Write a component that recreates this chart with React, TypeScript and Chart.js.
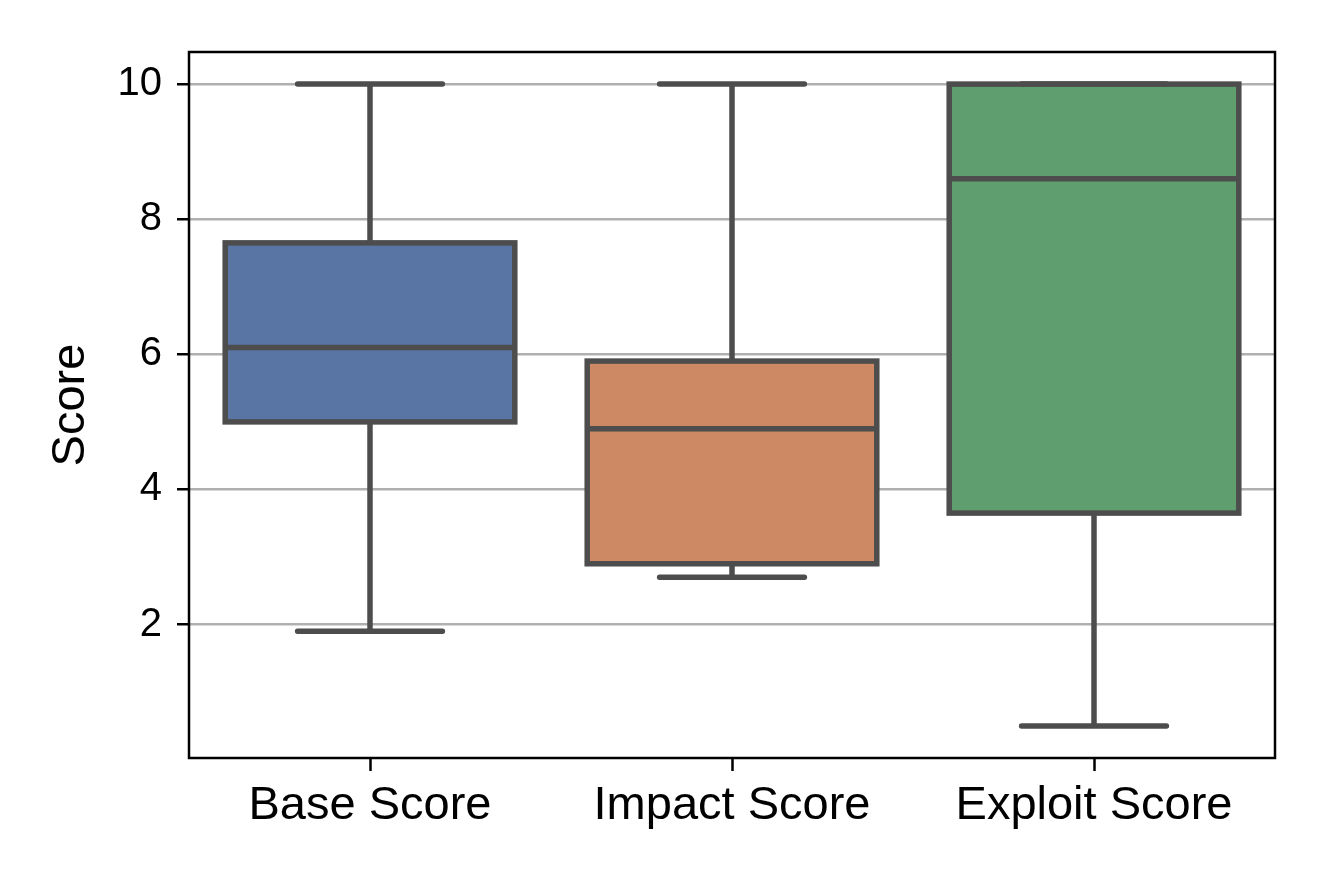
import React, { useEffect, useRef } from 'react';
import { Chart, registerables } from 'chart.js';

Chart.register(...registerables);

const categories = ['Base Score', 'Impact Score', 'Exploit Score'];
const whiskerLow = [1.9, 2.7, 0.5];
const q1 = [5.0, 2.9, 3.65];
const median = [6.1, 4.9, 8.6];
const q3 = [7.65, 5.9, 10.0];
const whiskerHigh = [10.0, 10.0, 10.0];
const boxColors = ['#5875a4', '#cc8963', '#5f9e6e'];
const yTicks = [2, 4, 6, 8, 10];
const yMin = 0.025;
const yMax = 10.475;

const LINE = '#4d4d4d';
const FONT = '"Liberation Sans", Arial, Helvetica, sans-serif';

const boxPlugin = {
  id: 'boxplotParts',
  afterDatasetsDraw(chart: any) {
    const ctx = chart.ctx;
    const meta = chart.getDatasetMeta(0);
    const y = chart.scales.y;
    ctx.save();
    ctx.strokeStyle = LINE;
    ctx.lineWidth = 5.5;
    ctx.lineJoin = 'miter';
    meta.data.forEach((bar: any, i: number) => {
      const { x, width } = bar.getProps(['x', 'width'], true);
      const top = y.getPixelForValue(q3[i]);
      const bot = y.getPixelForValue(q1[i]);
      ctx.strokeRect(x - width / 2, top, width, bot - top);
    });
    ctx.restore();
  },
  afterDraw(chart: any) {
    const ctx = chart.ctx;
    const meta = chart.getDatasetMeta(0);
    const y = chart.scales.y;
    ctx.save();
    ctx.strokeStyle = LINE;
    meta.data.forEach((bar: any, i: number) => {
      const { x, width } = bar.getProps(['x', 'width'], true);
      const pLow = y.getPixelForValue(whiskerLow[i]);
      const pQ1 = y.getPixelForValue(q1[i]);
      const pQ3 = y.getPixelForValue(q3[i]);
      const pHigh = y.getPixelForValue(whiskerHigh[i]);
      const pMed = y.getPixelForValue(median[i]);
      ctx.lineWidth = 5.5;
      ctx.lineCap = 'butt';
      ctx.beginPath();
      ctx.moveTo(x, pQ1);
      ctx.lineTo(x, pLow);
      ctx.moveTo(x, pQ3);
      ctx.lineTo(x, pHigh);
      ctx.stroke();
      const cw = width / 4;
      ctx.lineCap = 'round';
      ctx.beginPath();
      ctx.moveTo(x - cw, pLow);
      ctx.lineTo(x + cw, pLow);
      ctx.moveTo(x - cw, pHigh);
      ctx.lineTo(x + cw, pHigh);
      ctx.stroke();
      ctx.lineCap = 'butt';
      ctx.beginPath();
      ctx.moveTo(x - width / 2, pMed);
      ctx.lineTo(x + width / 2, pMed);
      ctx.stroke();
    });
    const a = chart.chartArea;
    ctx.strokeStyle = '#000000';
    ctx.lineWidth = 2.5;
    ctx.strokeRect(a.left, a.top, a.right - a.left, a.bottom - a.top);
    ctx.restore();
  },
};

export default function App() {
  const ref = useRef<HTMLCanvasElement>(null);

  useEffect(() => {
    if (!ref.current) return;
    const chart = new Chart(ref.current, {
      type: 'bar',
      data: {
        labels: categories,
        datasets: [
          {
            data: categories.map((_, i) => [q1[i], q3[i]]) as any,
            backgroundColor: boxColors,
            borderWidth: 0,
            barPercentage: 0.8,
            categoryPercentage: 1,
          },
        ],
      },
      options: {
        animation: false,
        responsive: false,
        devicePixelRatio: 1,
        events: [],
        layout: { padding: { top: 52, right: 54, left: 0, bottom: 0 } },
        plugins: { legend: { display: false }, tooltip: { enabled: false } },
        scales: {
          x: {
            type: 'category',
            offset: true,
            border: { display: false },
            grid: {
              offset: false,
              drawOnChartArea: false,
              drawTicks: true,
              tickLength: 13,
              tickColor: '#000000',
              tickWidth: 2.5,
            },
            ticks: {
              color: '#000000',
              font: { family: FONT, size: 47 },
              padding: 7,
              maxRotation: 0,
              autoSkip: false,
            },
            afterFit: (s: any) => {
              s.height = 128;
            },
          },
          y: {
            type: 'linear',
            min: yMin,
            max: yMax,
            z: 1,
            border: { display: false },
            grid: {
              color: '#b0b0b0',
              lineWidth: 2.5,
              drawTicks: true,
              tickLength: 12,
              tickColor: '#000000',
              tickWidth: 2.5,
            },
            ticks: {
              color: '#000000',
              font: { family: FONT, size: 40 },
              padding: 15,
            },
            afterBuildTicks: (s: any) => {
              s.ticks = yTicks.map((v) => ({ value: v }));
            },
            title: {
              display: true,
              text: 'Score',
              color: '#000000',
              font: { family: FONT, size: 47, lineHeight: 1 },
              padding: { top: 48, bottom: 0 },
            },
            afterFit: (s: any) => {
              s.width = 189;
            },
          },
        },
      },
      plugins: [boxPlugin],
    });
    return () => chart.destroy();
  }, []);

  return (
    <div style={{ position: 'absolute', left: 0, top: 0, width: 1329, height: 886, background: '#ffffff' }}>
      <canvas ref={ref} width={1329} height={886} style={{ display: 'block' }} />
    </div>
  );
}
